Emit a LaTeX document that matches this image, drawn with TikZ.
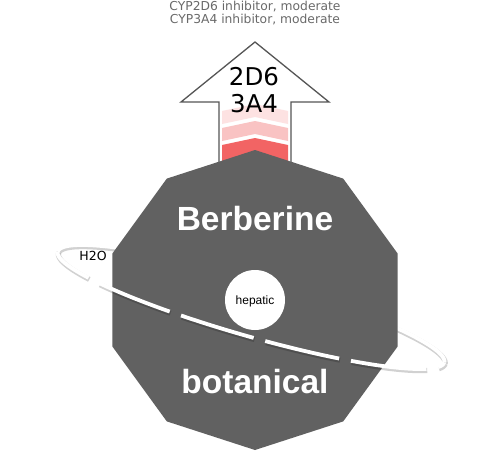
\documentclass[tikz,border=0pt]{standalone}
\usepackage{fontspec}
\setmainfont{DejaVu Sans}
\newfontfamily\arial{Liberation Sans}
\newfontfamily\dejavu{DejaVu Sans}
\definecolor{polyfill}{RGB}{97,97,97}
\definecolor{outline}{RGB}{85,85,85}
\definecolor{topgray}{RGB}{105,105,105}
\definecolor{bandA}{RGB}{253,226,226}
\definecolor{bandB}{RGB}{249,195,195}
\definecolor{bandC}{RGB}{242,100,100}
\tikzset{
  ringshadow/.style={draw=black, opacity=0.18, line width=5.2pt, line cap=butt},
  ringline/.style={draw=white, line width=3.8pt, line cap=butt},
  bigwhite/.style={text=white, font=\arial\bfseries\fontsize{33.5}{36}\selectfont, inner sep=0pt, anchor=base},
  toplabel/.style={text=topgray, font=\dejavu\fontsize{12.3}{14}\selectfont, inner sep=0pt, anchor=base},
  enzlabel/.style={text=black, font=\dejavu\fontsize{24.5}{27}\selectfont, inner sep=0pt, anchor=base}
}
\newcommand{\ringx}[1]{251+201*cos(#1)*0.9613-29*sin(#1)*0.2756}
\newcommand{\ringy}[1]{307+201*cos(#1)*0.2756+29*sin(#1)*0.9613}
\begin{document}
\begin{tikzpicture}[x=1pt,y=-1pt]
\useasboundingbox (0,0) rectangle (502,452);
% arrow
\draw[outline, fill=white, line width=1.3pt, line join=miter]
  (219,170) -- (219,102) -- (181,102) -- (255,42) -- (329,102) -- (291,102) -- (291,170);
\fill[bandA] (222,111) -- (255,104) -- (288,111) -- (288,124) -- (255,117) -- (222,124) -- cycle;
\fill[bandB] (222,128) -- (255,121) -- (288,128) -- (288,141) -- (255,134) -- (222,141) -- cycle;
\fill[bandC] (222,145) -- (255,138) -- (288,145) -- (288,168) -- (222,168) -- cycle;
\node[enzlabel] (e1) at (254,85) {2D6};
\node[enzlabel] (e2) at (254,112) {3A4};
% top labels
\node[toplabel] (t1) at (255,10.5) {CYP2D6 inhibitor, moderate};
\node[toplabel] (t2) at (255,24) {CYP3A4 inhibitor, moderate};
% back half of ring
\draw[ringshadow, shift={(0.8,1.6)}] plot[domain=180:360, samples=120, variable=\t] ({\ringx{\t}},{\ringy{\t}});
\draw[ringline] plot[domain=180:360, samples=120, variable=\t] ({\ringx{\t}},{\ringy{\t}});
% decagon
\fill[polyfill] (255,150) -- (343.2,178.6) -- (397.7,253.6) -- (397.7,346.4) -- (343.2,421.4)
  -- (255,450) -- (166.8,421.4) -- (112.3,346.4) -- (112.3,253.6) -- (166.8,178.6) -- cycle;
% front half of ring (dashed)
\draw[ringshadow, shift={(0.8,1.6)}, dash pattern=on 76pt off 12pt, dash phase=34pt] plot[domain=180:0, samples=120, variable=\t] ({\ringx{\t}},{\ringy{\t}});
\draw[ringline, dash pattern=on 76pt off 12pt, dash phase=34pt] plot[domain=180:0, samples=120, variable=\t] ({\ringx{\t}},{\ringy{\t}});
% hepatic circle
\node[circle, fill=white, minimum size=60pt, inner sep=0pt] (hep) at (255,300) {};
\node[font=\arial\fontsize{12}{14}\selectfont, inner sep=0pt, anchor=base] (heptext) at (255,304) {hepatic};
% texts
\node[bigwhite] (name) at (255,230) {Berberine};
\node[bigwhite] (kind) at (255,393) {botanical};
\node[font=\dejavu\fontsize{12.5}{14}\selectfont, inner sep=0pt, anchor=base] (water) at (93,260.5) {H2O};
\end{tikzpicture}
\end{document}
